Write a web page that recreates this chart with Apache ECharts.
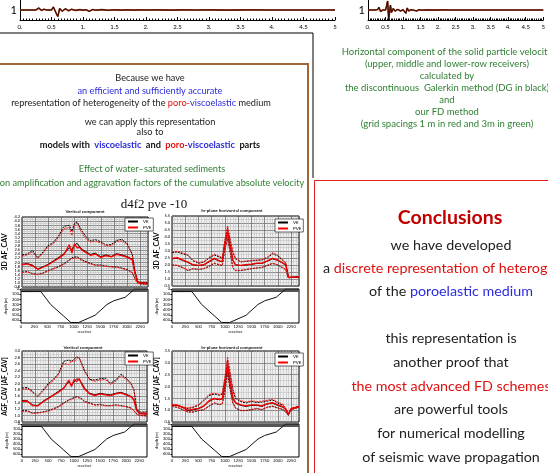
<!DOCTYPE html>
<html>
<head>
<meta charset="utf-8">
<script src="https://cdn.jsdelivr.net/npm/echarts@6/dist/echarts.min.js"></script>
<style>
  html, body { margin: 0; padding: 0; background: #fff; }
  #main { width: 548px; height: 473px; }
</style>
</head>
<body>
<div id="main"></div>
<script>
// seismograms, receiver 1 (time [s], trace offset to 1)
const TIME_TL = [0,0.25,0.3,0.34,0.38,0.42,0.5,0.53,0.56,0.58,0.6,0.63,0.67,0.72,0.77,0.82,0.88,0.95,1.0,1.05,1.1,1.15,1.2,1.3,1.4,1.5,1.6,1.7,1.8,1.9,2.0,2.2,2.4,2.6,2.8,3.0,3.3,3.6,4.0,4.4,4.8,5.0];
const TRACE_TL = [1,1,1.2,0.95,1.08,1,1,1.3,1.45,0.6,0.35,1.15,0.88,1.12,0.93,1.07,0.96,1.04,0.98,1.03,0.86,1.05,0.98,1.04,0.97,1.02,0.99,1.02,0.99,1.01,1.0,1.01,0.99,1.01,1.0,1.01,0.99,1.01,1.0,1.0,1.0,1.0];
const TIME_TR = [0,0.2,0.28,0.31,0.36,0.42,0.5,0.53,0.56,0.59,0.64,0.67,0.72,0.77,0.85,0.93,1.0,1.04,1.08,1.12,1.16,1.22,1.3,1.35,1.39,1.45,1.55,1.7,1.9,2.1,2.4,2.8,3.2,3.6,4.0,4.5,5.0];
const TRACE_TR = [1,1,1.05,1.27,0.85,1.0,1.0,1.4,1.9,0.0,1.5,0.75,1.15,0.9,1.06,0.9,1.03,1.0,0.67,1.2,0.9,1.02,0.98,1.12,0.9,1.03,0.98,1.01,0.99,1.01,1.0,1.0,1.0,1.0,1.0,1.0,1.0];

// receivers along the profile
const RECEIVERS = [0,100,200,300,400,500,600,700,800,900,950,1000,1050,1100,1150,1200,1300,1400,1500,1600,1700,1800,1900,2000,2100,2150,2200,2250,2400];

// AF_CAV, vertical component
const AF_V_VE_UP   = [2.36,2.40,2.58,2.22,2.50,2.82,2.97,3.30,3.75,3.80,3.50,3.88,3.96,3.72,3.50,3.30,3.05,3.10,3.00,2.84,2.86,3.06,3.12,2.92,2.40,1.60,1.08,1.03,1.03];
const AF_V_VE_MID  = [1.90,1.94,1.86,1.68,1.78,1.90,2.07,2.24,2.42,2.70,2.62,2.84,2.92,2.75,2.62,2.55,2.38,2.44,2.27,2.36,2.28,2.42,2.36,2.28,2.15,1.50,1.10,1.00,0.98];
const AF_V_VE_LOW  = [1.52,1.55,1.45,1.42,1.48,1.60,1.70,1.80,1.94,2.12,2.22,2.25,2.27,2.18,2.12,2.05,1.95,1.87,1.87,1.82,1.79,1.78,1.72,1.65,1.50,1.22,1.00,0.95,0.93];
const AF_V_PVE_UP  = [2.30,2.36,2.52,2.18,2.44,2.76,2.90,3.22,3.62,3.70,3.30,3.78,3.90,3.62,3.40,3.20,2.98,3.02,2.94,2.80,2.80,3.00,3.04,2.88,2.36,1.56,1.06,1.02,1.02];
const AF_V_PVE_MID = [1.88,1.92,1.83,1.66,1.76,1.88,2.04,2.20,2.38,2.85,2.45,2.90,2.70,2.72,2.58,2.50,2.34,2.40,2.24,2.32,2.26,2.38,2.32,2.25,2.12,1.48,1.08,1.00,0.98];
const AF_V_PVE_LOW = [1.50,1.53,1.43,1.40,1.46,1.57,1.67,1.77,1.90,2.08,2.18,2.20,2.22,2.14,2.08,2.02,1.92,1.85,1.84,1.80,1.77,1.76,1.70,1.63,1.48,1.20,0.99,0.95,0.93];

// AF_CAV, in-plane horizontal component
const AF_H_VE_UP   = [2.89,2.93,2.80,2.70,2.30,2.13,2.20,2.50,2.71,2.56,2.48,3.70,4.67,3.75,2.90,2.45,2.22,2.26,2.30,2.33,2.35,2.50,2.80,2.65,2.30,2.15,1.15,1.12,1.15];
const AF_H_VE_MID  = [2.44,2.49,2.33,2.18,2.00,1.96,2.00,2.22,2.44,2.27,2.22,3.56,4.27,3.33,2.33,2.00,1.96,2.00,2.04,2.11,2.11,2.27,2.44,2.33,2.11,2.00,1.11,1.11,1.15];
const AF_H_VE_LOW  = [2.00,1.96,1.82,1.60,1.73,1.67,1.73,1.89,2.11,2.00,1.96,3.11,3.89,2.89,1.78,1.60,1.60,1.67,1.73,1.78,1.82,1.96,2.11,2.00,1.78,1.67,1.07,1.11,1.15];
const AF_H_PVE_UP  = [2.95,2.98,2.86,2.74,2.34,2.16,2.24,2.55,2.78,2.62,2.52,3.80,4.80,3.85,2.95,2.48,2.25,2.28,2.33,2.36,2.40,2.56,2.88,2.70,2.34,2.16,1.13,1.13,1.16];
const AF_H_PVE_MID = [2.48,2.52,2.36,2.20,2.02,1.98,2.02,2.26,2.48,2.30,2.26,3.62,4.40,3.40,2.36,2.02,1.98,2.02,2.06,2.13,2.14,2.30,2.48,2.36,2.13,2.02,1.12,1.12,1.15];
const AF_H_PVE_LOW = [2.02,1.98,1.84,1.62,1.74,1.68,1.75,1.92,2.14,2.03,1.98,3.20,4.00,2.95,1.80,1.62,1.62,1.68,1.75,1.80,1.84,1.98,2.14,2.02,1.80,1.68,1.08,1.11,1.15];

// AGF_CAV, vertical component
const AG_V_VE_UP   = [1.85,1.87,1.75,1.60,1.78,1.98,2.12,2.30,2.68,2.72,2.68,2.74,2.82,2.78,2.60,2.40,2.12,2.10,2.14,2.16,2.00,2.10,2.28,2.16,1.98,1.80,1.23,1.11,1.11];
const AG_V_VE_MID  = [1.46,1.46,1.33,1.31,1.44,1.54,1.64,1.75,1.85,2.05,1.95,2.05,2.14,2.10,2.00,1.85,1.69,1.64,1.69,1.66,1.64,1.69,1.72,1.66,1.59,1.49,1.18,1.07,1.05];
const AG_V_VE_LOW  = [1.15,1.15,1.08,1.09,1.11,1.15,1.21,1.28,1.39,1.49,1.52,1.56,1.59,1.56,1.52,1.44,1.39,1.33,1.35,1.31,1.31,1.33,1.31,1.28,1.23,1.15,1.05,1.01,0.99];
const AG_V_PVE_UP  = [1.80,1.84,1.72,1.58,1.74,1.94,2.08,2.26,2.62,2.58,2.70,2.66,2.76,2.80,2.56,2.36,2.10,2.06,2.10,2.12,1.96,2.06,2.24,2.12,1.95,1.76,1.20,1.09,1.09];
const AG_V_PVE_MID = [1.44,1.45,1.31,1.30,1.42,1.52,1.62,1.72,1.84,2.10,1.90,2.12,2.05,2.15,1.96,1.82,1.67,1.62,1.67,1.64,1.62,1.67,1.70,1.64,1.57,1.47,1.16,1.06,1.04];
const AG_V_PVE_LOW = [1.13,1.13,1.07,1.07,1.10,1.13,1.19,1.26,1.37,1.47,1.50,1.54,1.57,1.54,1.50,1.42,1.37,1.32,1.33,1.30,1.30,1.32,1.30,1.27,1.22,1.14,1.04,1.00,0.98];

// AGF_CAV, in-plane horizontal component
const AG_H_VE_UP   = [1.23,1.20,1.12,1.07,1.12,1.20,1.40,1.62,1.68,1.63,1.68,2.30,3.12,2.50,1.85,1.50,1.36,1.30,1.37,1.32,1.34,1.38,1.43,1.30,1.20,1.06,0.84,1.06,1.16];
const AG_H_VE_MID  = [1.20,1.20,1.12,0.98,1.02,1.06,1.16,1.37,1.48,1.44,1.48,2.07,2.84,2.14,1.51,1.30,1.20,1.16,1.20,1.20,1.16,1.26,1.30,1.20,1.12,1.02,0.81,1.06,1.15];
const AG_H_VE_LOW  = [1.16,1.12,1.02,0.92,0.92,0.98,1.02,1.16,1.30,1.23,1.26,1.79,2.56,1.86,1.30,1.09,0.98,0.98,1.02,1.06,1.02,1.12,1.16,1.09,1.02,0.92,0.78,1.02,1.12];
const AG_H_PVE_UP  = [1.25,1.22,1.14,1.10,1.15,1.24,1.44,1.66,1.72,1.66,1.72,2.40,3.25,2.60,1.90,1.55,1.40,1.34,1.40,1.36,1.38,1.42,1.46,1.34,1.24,1.08,0.86,1.08,1.17];
const AG_H_PVE_MID = [1.21,1.21,1.13,1.00,1.04,1.08,1.18,1.40,1.50,1.46,1.50,2.15,2.95,2.20,1.54,1.32,1.22,1.18,1.22,1.22,1.18,1.28,1.32,1.22,1.14,1.03,0.82,1.07,1.15];
const AG_H_PVE_LOW = [1.17,1.13,1.03,0.93,0.93,0.99,1.03,1.18,1.32,1.25,1.28,1.85,2.65,1.90,1.32,1.10,0.99,0.99,1.03,1.07,1.03,1.13,1.17,1.10,1.03,0.93,0.79,1.03,1.12];

// sediment-filled valley (receiver, depth [m])
const BASIN_X = [0,375,560,800,940,1090,1400,1625,1750,1970,2150,2400];
const BASIN_DEPTH = [50,50,300,520,650,650,510,300,230,160,0,0];
const SURFACE_X = [0,2400];
const SURFACE_DEPTH = [30,30];
const LAYER_X = [0,220];
const LAYER_DEPTH = [60,60];

const SANS = 'Lato, "Open Sans", sans-serif';
const BLUE = '#2b2bdc';
const RED = '#e01010';
const GREEN = '#2f7f33';

const chart = echarts.init(document.getElementById('main'));

function pairs(xs, ys) {
  return xs.map((x, i) => [x, ys[i]]);
}

function ampLine(gi, name, arr, color, dotted, width, z) {
  return {
    type: 'line', name: name, xAxisIndex: gi, yAxisIndex: gi,
    data: pairs(RECEIVERS, arr), symbol: 'none', silent: true, z: z || 2,
    lineStyle: { color: color, width: width, type: dotted ? [2, 1] : 'solid' },
    itemStyle: { color: color }
  };
}

function ampSeries(gi, veUp, veMid, veLow, pveUp, pveMid, pveLow) {
  return [
    ampLine(gi, 'VE', veMid, '#000', false, 1, 3),
    ampLine(gi, 'PVE', pveMid, '#ff0000', false, 1.3, 4),
    ampLine(gi, 'VE', veUp, '#000', true, 1),
    ampLine(gi, 'VE', veLow, '#000', true, 1),
    ampLine(gi, 'PVE', pveUp, '#ff1a1a', true, 1),
    ampLine(gi, 'PVE', pveLow, '#ff1a1a', true, 1)
  ];
}

function depthSeries(gi) {
  return [
    { type: 'line', xAxisIndex: gi, yAxisIndex: gi, data: pairs(LAYER_X, LAYER_DEPTH), symbol: 'none', silent: true,
      lineStyle: { width: 0 }, areaStyle: { color: '#bdbdbd', origin: 'start', opacity: 1 } },
    { type: 'line', xAxisIndex: gi, yAxisIndex: gi, data: pairs(SURFACE_X, SURFACE_DEPTH), symbol: 'none', silent: true,
      lineStyle: { color: '#555', width: 3 } },
    { type: 'line', xAxisIndex: gi, yAxisIndex: gi, data: pairs(BASIN_X, BASIN_DEPTH), symbol: 'none', silent: true,
      lineStyle: { color: '#111', width: 1 } }
  ];
}

function seismoSeries(gi, t, v) {
  return [
    { type: 'line', xAxisIndex: gi, yAxisIndex: gi, data: pairs(t, v), symbol: 'none', silent: true, lineStyle: { color: '#3a9a3a', width: 1.2 } },
    { type: 'line', xAxisIndex: gi, yAxisIndex: gi, data: pairs(t, v), symbol: 'none', silent: true, lineStyle: { color: '#c0281c', width: 1.6 } },
    { type: 'line', xAxisIndex: gi, yAxisIndex: gi, data: pairs(t, v), symbol: 'none', silent: true, lineStyle: { color: '#1a0d00', width: 0.9 } }
  ];
}

function seismoAxes(gi) {
  return {
    x: {
      gridIndex: gi, type: 'value', min: 0, max: 5, interval: 0.5,
      axisLine: { lineStyle: { color: '#000', width: 1 } },
      axisTick: { inside: true, length: 3, lineStyle: { color: '#000' } },
      minorTick: { show: true, splitNumber: 10, length: 1.5, lineStyle: { color: '#000' } },
      splitLine: { show: false },
      axisLabel: { fontSize: 6, color: '#000', margin: 4, fontFamily: SANS,
        formatter: v => v === 5 ? '5' : (v % 1 === 0 ? v + '.' : String(v)) }
    },
    y: {
      gridIndex: gi, type: 'value', min: 0, max: 2, interval: 1,
      axisLine: { show: true, lineStyle: { color: '#000' } },
      axisTick: { show: false }, splitLine: { show: false },
      axisLabel: { fontSize: 11, color: '#000', margin: 3, fontFamily: SANS, formatter: v => v === 1 ? '1' : '' }
    }
  };
}

function topAxes(gi, min, max, interval, yName, nameGap, nameSize) {
  return {
    x: {
      gridIndex: gi, type: 'value', min: 0, max: 2400, interval: 250,
      axisLabel: { show: false }, axisTick: { show: false }, axisLine: { show: false },
      splitLine: { lineStyle: { color: '#6e6e6e', width: 0.8 } },
      minorTick: { show: false, splitNumber: 5 },
      minorSplitLine: { show: true, lineStyle: { color: '#b8b8b8', width: 0.5 } }
    },
    y: {
      gridIndex: gi, type: 'value', min: min, max: max, interval: interval,
      axisLine: { show: false }, axisTick: { show: false },
      axisLabel: { fontSize: 4, color: '#000', margin: 2, fontFamily: SANS, formatter: v => v.toFixed(1) },
      splitLine: { lineStyle: { color: '#6e6e6e', width: 0.8 } },
      minorTick: { show: false, splitNumber: 2 },
      minorSplitLine: { show: true, lineStyle: { color: '#b8b8b8', width: 0.5 } },
      name: yName, nameLocation: 'middle', nameGap: nameGap, nameRotate: 90,
      nameTextStyle: { fontSize: nameSize, fontWeight: 'bold', color: '#000', fontFamily: SANS }
    }
  };
}

function bottomAxes(gi) {
  return {
    x: {
      gridIndex: gi, type: 'value', min: 0, max: 2400, interval: 250,
      axisLine: { show: false }, axisTick: { length: 1.5, lineStyle: { color: '#000' } },
      splitLine: { show: false },
      axisLabel: { fontSize: 4, color: '#000', margin: 2, fontFamily: SANS, showMaxLabel: false, formatter: v => String(v) },
      name: 'receiver', nameLocation: 'middle', nameGap: 7,
      nameTextStyle: { fontSize: 4, color: '#000', fontFamily: SANS }
    },
    y: {
      gridIndex: gi, type: 'value', inverse: true, min: 0, max: 660, interval: 100,
      axisLine: { show: false }, axisTick: { length: 1.5, lineStyle: { color: '#000' } },
      splitLine: { show: false },
      axisLabel: { fontSize: 4, color: '#000', margin: 2, fontFamily: SANS, formatter: v => String(v) },
      name: 'depth [m]', nameLocation: 'middle', nameGap: 11, nameRotate: 90,
      nameTextStyle: { fontSize: 4, color: '#000', fontFamily: SANS }
    }
  };
}

const axes = [
  seismoAxes(0),
  seismoAxes(1),
  topAxes(2, 0.8, 4.2, 0.2, '3D AF_CAV', 14, 7),
  bottomAxes(3),
  topAxes(4, 0.5, 5.5, 0.5, '3D AF_CAV', 10, 7),
  bottomAxes(5),
  topAxes(6, 0.8, 3.0, 0.2, 'AGF_CAV [AF_CAV]', 14, 6.5),
  bottomAxes(7),
  topAxes(8, 0.5, 3.5, 0.5, 'AGF_CAV [AF_CAV]', 10, 6.5),
  bottomAxes(9)
];

const topGrid = { show: true, backgroundColor: '#efefef', borderColor: '#000', borderWidth: 1 };
const botGrid = { show: true, backgroundColor: '#fff', borderColor: '#000', borderWidth: 1 };

function legendAt(left, top) {
  return {
    data: ['VE', 'PVE'], orient: 'vertical', left: left, top: top,
    itemWidth: 10, itemHeight: 2, itemGap: 1, padding: [1, 2, 1, 2],
    backgroundColor: '#fff', borderColor: '#000', borderWidth: 0.6,
    textStyle: { fontSize: 4.5, color: '#000', fontFamily: SANS }
  };
}

function rich(size, weight) {
  const base = { fontSize: size, fontFamily: SANS, fontWeight: weight || 'normal' };
  return {
    r: Object.assign({ fill: RED }, base),
    b: Object.assign({ fill: BLUE }, base),
    k: Object.assign({ fill: '#222' }, base)
  };
}

function txt(x, y, text, size, color, weight, align) {
  return {
    type: 'text', x: x, y: y, silent: true,
    style: {
      text: text, fill: color || '#222', fontSize: size, fontFamily: SANS,
      fontWeight: weight || 'normal', align: align || 'center', verticalAlign: 'middle',
      rich: rich(size, weight)
    }
  };
}

const LS = 9.2;   // left panel text size
const CS = 14.3;  // conclusions text size

const graphics = [
  { type: 'line', shape: { x1: 0, y1: 33, x2: 313, y2: 33 }, style: { stroke: '#000', lineWidth: 1 } },
  { type: 'line', shape: { x1: 313, y1: 33, x2: 313, y2: 178 }, style: { stroke: '#000', lineWidth: 1 } },
  { type: 'rect', shape: { x: -3, y: 64, width: 311, height: 420 }, style: { fill: '#fff', stroke: '#a0683a', lineWidth: 2 }, z: -10 },
  { type: 'rect', shape: { x: 314.5, y: 180.5, width: 240, height: 300 }, style: { fill: 'none', stroke: '#e02020', lineWidth: 1 } },

  txt(150, 78, 'Because we have', LS),
  txt(150, 91, 'an efficient and sufficiently accurate', LS, BLUE),
  txt(141, 103, 'representation of heterogeneity of the {r|poro-}{b|viscoelastic} medium', LS),
  txt(150, 122, 'we can apply this representation', LS),
  txt(150, 132, 'also to', LS),
  txt(150, 145, 'models with  {b|viscoelastic}  and  {r|poro-}{b|viscoelastic}  parts', LS, '#111', 'bold'),
  txt(152, 169, 'Effect of water\u2013saturated sediments', LS, GREEN),
  txt(152, 183, 'on amplification and aggravation factors of the cumulative absolute velocity', LS, GREEN),
  { type: 'text', x: 154, y: 205, silent: true,
    style: { text: 'd4f2 pve -10', fill: '#111', fontSize: 13, fontFamily: '"Liberation Serif", "DejaVu Serif", serif', align: 'center', verticalAlign: 'middle' } },

  txt(85, 212, 'Vertical component', 4.5, '#111', 'bold'),
  txt(232, 211, 'In-plane horizontal component', 4.5, '#111', 'bold'),
  txt(83, 348, 'Vertical component', 4.5, '#111', 'bold'),
  txt(232, 348, 'In-plane horizontal component', 4.5, '#111', 'bold'),

  txt(447, 52, 'Horizontal component of the solid particle velocity', 9.5, GREEN),
  txt(447, 64, '(upper, middle and lower-row receivers)', 9.5, GREEN),
  txt(447, 76, 'calculated by', 9.5, GREEN),
  txt(447, 88, 'the discontinuous  Galerkin method (DG in black)', 9.5, GREEN),
  txt(447, 100, 'and', 9.5, GREEN),
  txt(447, 112, 'our FD method', 9.5, GREEN),
  txt(447, 124, '(grid spacings 1 m in red and 3m in green)', 9.5, GREEN),

  txt(450, 218, 'Conclusions', 19.5, '#c00000', 'bold'),
  txt(451, 245, 'we have developed', CS),
  txt(323, 268, 'a {r|discrete representation of heterogeneity}', CS, '#222', 'normal', 'left'),
  txt(451, 291, 'of the {b|poroelastic medium}', CS),
  txt(451, 338, 'this representation is', CS),
  txt(451, 362, 'another proof that', CS),
  txt(451, 386, 'the most advanced FD schemes', CS, RED),
  txt(451, 409, 'are powerful tools', CS),
  txt(451, 433, 'for numerical modelling', CS),
  txt(451, 457, 'of seismic wave propagation', CS)
];

const option = {
  animation: false,
  backgroundColor: '#fff',
  grid: [
    { left: 20, top: -2, width: 315, height: 22 },
    { left: 368, top: -2, width: 320, height: 22 },
    Object.assign({ left: 21, top: 217, width: 127, height: 70 }, topGrid),
    Object.assign({ left: 21, top: 289, width: 127, height: 34 }, botGrid),
    Object.assign({ left: 172, top: 216, width: 127, height: 70 }, topGrid),
    Object.assign({ left: 172, top: 289, width: 127, height: 34 }, botGrid),
    Object.assign({ left: 22, top: 351, width: 125, height: 71 }, topGrid),
    Object.assign({ left: 22, top: 424, width: 125, height: 33 }, botGrid),
    Object.assign({ left: 172, top: 351, width: 127, height: 71 }, topGrid),
    Object.assign({ left: 172, top: 424, width: 127, height: 33 }, botGrid)
  ],
  xAxis: axes.map(a => a.x),
  yAxis: axes.map(a => a.y),
  legend: [legendAt(125, 218), legendAt(275, 219), legendAt(125, 352), legendAt(275, 353)],
  graphic: graphics,
  series: [].concat(
    seismoSeries(0, TIME_TL, TRACE_TL),
    seismoSeries(1, TIME_TR, TRACE_TR),
    ampSeries(2, AF_V_VE_UP, AF_V_VE_MID, AF_V_VE_LOW, AF_V_PVE_UP, AF_V_PVE_MID, AF_V_PVE_LOW),
    depthSeries(3),
    ampSeries(4, AF_H_VE_UP, AF_H_VE_MID, AF_H_VE_LOW, AF_H_PVE_UP, AF_H_PVE_MID, AF_H_PVE_LOW),
    depthSeries(5),
    ampSeries(6, AG_V_VE_UP, AG_V_VE_MID, AG_V_VE_LOW, AG_V_PVE_UP, AG_V_PVE_MID, AG_V_PVE_LOW),
    depthSeries(7),
    ampSeries(8, AG_H_VE_UP, AG_H_VE_MID, AG_H_VE_LOW, AG_H_PVE_UP, AG_H_PVE_MID, AG_H_PVE_LOW),
    depthSeries(9)
  )
};

chart.setOption(option);
</script>
</body>
</html>
